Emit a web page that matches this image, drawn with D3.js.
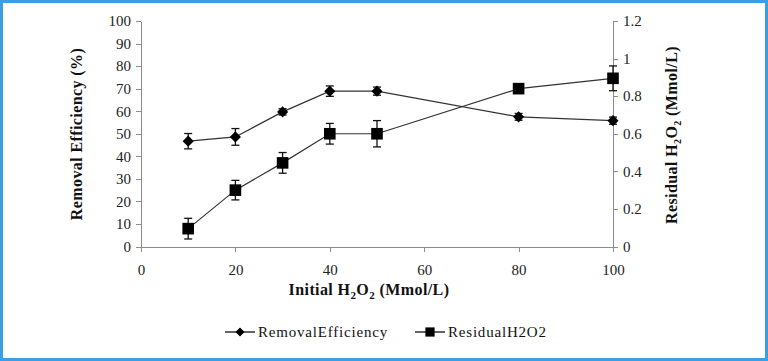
<!DOCTYPE html>
<html>
<head>
<meta charset="utf-8">
<title>H2O2 chart</title>
<script src="https://cdn.jsdelivr.net/npm/d3@7"></script>
<style>
  body { margin: 0; background: #fff; }
  svg { display: block; }
  .axis path, .axis line { fill: none; stroke: #8c8c8c; shape-rendering: crispEdges; }
  .title { font-family: "Liberation Serif", serif; font-size: 16px; font-weight: bold; fill: #111; letter-spacing: 0.4px; }
  .legend text { font-family: "Liberation Serif", serif; font-size: 15px; fill: #111; letter-spacing: 0.8px; }
</style>
</head>
<body>
<script>
// data
var doses = [10, 20, 30, 40, 50, 80, 100];
var removal = [46.7, 48.6, 59.7, 68.9, 68.9, 57.5, 55.8];
var removalErr = [3.4, 3.7, 1.4, 2.3, 1.8, 1.5, 1.6];
var residual = [0.095, 0.3, 0.445, 0.6, 0.6, 0.84, 0.895];
var residualErr = [0.055, 0.052, 0.055, 0.055, 0.07, 0.012, 0.066];
var xTicks = [0, 20, 40, 60, 80, 100];
var yLeftTicks = [0, 10, 20, 30, 40, 50, 60, 70, 80, 90, 100];
var yRightTicks = [0, 0.2, 0.4, 0.6, 0.8, 1, 1.2];

var w = 768, h = 361;

var svg = d3.select("body").append("svg")
    .attr("width", w)
    .attr("height", h);

// blue frame
svg.append("rect")
    .attr("x", 1.5).attr("y", 1.5)
    .attr("width", w - 3).attr("height", h - 3)
    .attr("fill", "none")
    .attr("stroke", "#3d9fe2")
    .attr("stroke-width", 3);

var xScale = d3.scaleLinear().domain([0, 100]).range([141, 613]);
var yLeft = d3.scaleLinear().domain([0, 100]).range([246.5, 21]);
var yRight = d3.scaleLinear().domain([0, 1.2]).range([246.5, 21]);

function styleAxis(g) {
    g.selectAll("text")
        .style("font-family", "'Liberation Serif', 'Times New Roman', serif")
        .style("font-size", "15px")
        .style("fill", "#222");
}

// axes
svg.append("g").attr("class", "axis")
    .attr("transform", "translate(0,246.5)")
    .call(d3.axisBottom(xScale).tickValues(xTicks).tickSize(5).tickSizeOuter(0).tickPadding(13))
    .call(styleAxis);

svg.append("g").attr("class", "axis")
    .attr("transform", "translate(141,0)")
    .call(d3.axisLeft(yLeft).tickValues(yLeftTicks).tickSize(5).tickSizeOuter(0).tickPadding(5))
    .call(styleAxis);

svg.append("g").attr("class", "axis")
    .attr("transform", "translate(613,0)")
    .call(d3.axisRight(yRight).tickValues(yRightTicks).tickSize(5).tickSizeOuter(0).tickPadding(5)
        .tickFormat(function(d) { return String(+d.toFixed(1)); }))
    .call(styleAxis);

// axis titles
svg.append("text").attr("class", "title")
    .attr("transform", "translate(82,134) rotate(-90)")
    .attr("text-anchor", "middle")
    .text("Removal Efficiency (%)");

var rt = svg.append("text").attr("class", "title")
    .attr("transform", "translate(677,135) rotate(-90)")
    .attr("text-anchor", "middle");
rt.append("tspan").text("Residual H");
rt.append("tspan").attr("font-size", "10px").attr("dy", 4).text("2");
rt.append("tspan").attr("dy", -4).text("O");
rt.append("tspan").attr("font-size", "10px").attr("dy", 4).text("2");
rt.append("tspan").attr("dy", -4).text(" (Mmol/L)");

var xt = svg.append("text").attr("class", "title")
    .attr("x", 369).attr("y", 295)
    .attr("text-anchor", "middle");
xt.append("tspan").text("Initial H");
xt.append("tspan").attr("font-size", "11px").attr("dy", 4).text("2");
xt.append("tspan").attr("dy", -4).text("O");
xt.append("tspan").attr("font-size", "11px").attr("dy", 4).text("2");
xt.append("tspan").attr("dy", -4).text("  (Mmol/L)");

// series
function drawSeries(vals, errs, yScale, rotate, size) {
    var line = d3.line()
        .x(function(d, i) { return xScale(doses[i]); })
        .y(function(d) { return yScale(d); });
    svg.append("path")
        .attr("d", line(vals))
        .attr("fill", "none")
        .attr("stroke", "#333")
        .attr("stroke-width", 1.2);

    var g = svg.append("g");
    vals.forEach(function(v, i) {
        var x = xScale(doses[i]);
        var y0 = yScale(v - errs[i]), y1 = yScale(v + errs[i]);
        g.append("line").attr("x1", x).attr("x2", x).attr("y1", y0).attr("y2", y1)
            .attr("stroke", "#111").attr("stroke-width", 1.3);
        g.append("line").attr("x1", x - 4).attr("x2", x + 4).attr("y1", y0).attr("y2", y0)
            .attr("stroke", "#111").attr("stroke-width", 1.3);
        g.append("line").attr("x1", x - 4).attr("x2", x + 4).attr("y1", y1).attr("y2", y1)
            .attr("stroke", "#111").attr("stroke-width", 1.3);
        g.append("path")
            .attr("d", d3.symbol().type(d3.symbolSquare).size(size)())
            .attr("transform", "translate(" + x + "," + yScale(v) + ")" + (rotate ? " rotate(45)" : ""))
            .attr("fill", "#000");
    });
}

drawSeries(removal, removalErr, yLeft, true, 62);
drawSeries(residual, residualErr, yRight, false, 135);

// legend
var leg = svg.append("g").attr("class", "legend");
var items = [
    { label: "RemovalEfficiency", x: 225, size: 40, rot: true },
    { label: "ResidualH2O2", x: 415, size: 85, rot: false }
];
items.forEach(function(it) {
    leg.append("line").attr("x1", it.x).attr("x2", it.x + 30)
        .attr("y1", 332).attr("y2", 332)
        .attr("stroke", "#111").attr("stroke-width", 1.3);
    leg.append("path")
        .attr("d", d3.symbol().type(d3.symbolSquare).size(it.size)())
        .attr("transform", "translate(" + (it.x + 15) + ",332)" + (it.rot ? " rotate(45)" : ""))
        .attr("fill", "#000");
    leg.append("text").attr("x", it.x + 33).attr("y", 337).text(it.label);
});
</script>
</body>
</html>
